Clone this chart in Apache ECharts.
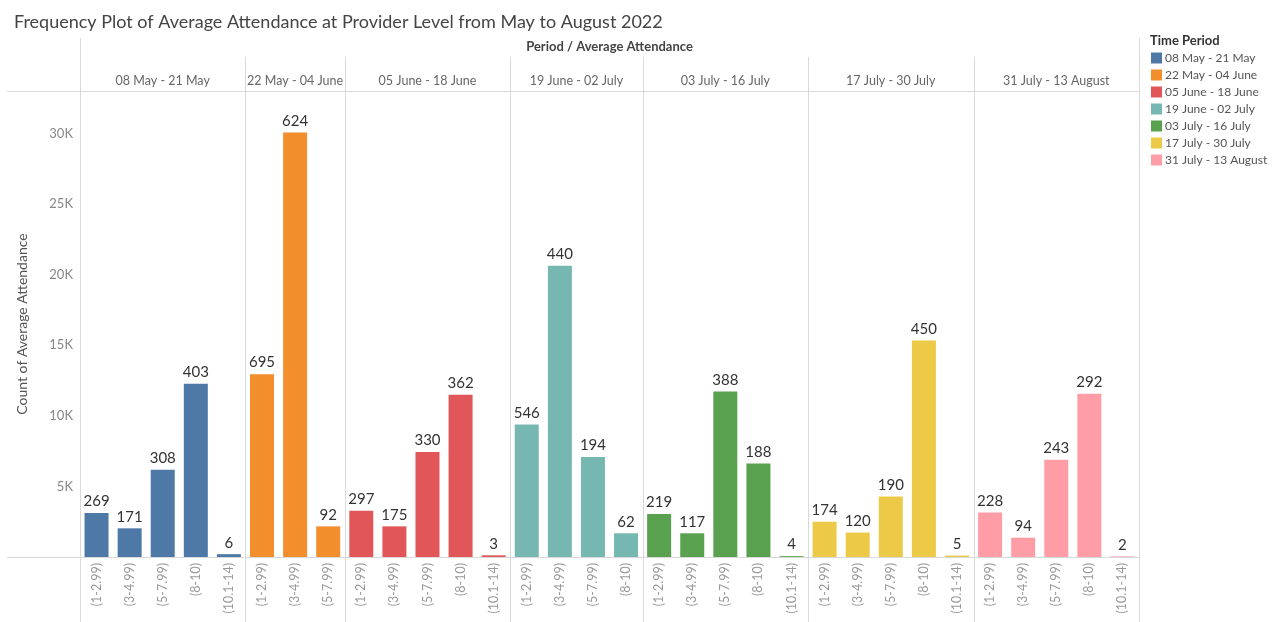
<!DOCTYPE html>
<html>
<head>
<meta charset="utf-8">
<script src="https://cdn.jsdelivr.net/npm/echarts@6/dist/echarts.min.js"></script>
<style>
html,body{margin:0;padding:0;background:#fff;}
#c{width:1273px;height:622px;}
</style>
</head>
<body>
<div id="c"></div>
<script>
// ---- data ----
var periods = ['08 May - 21 May','22 May - 04 June','05 June - 18 June','19 June - 02 July','03 July - 16 July','17 July - 30 July','31 July - 13 August'];
var colors = ['#4e79a7','#f28e2b','#e15759','#76b7b2','#59a14f','#edc948','#ff9da7'];
var bins1 = ['(1-2.99)','(3-4.99)','(5-7.99)','(8-10)','(10.1-14)'];
var bins2 = ['(1-2.99)','(3-4.99)','(5-7.99)'];
var bins3 = ['(1-2.99)','(3-4.99)','(5-7.99)','(8-10)','(10.1-14)'];
var bins4 = ['(1-2.99)','(3-4.99)','(5-7.99)','(8-10)'];
var bins5 = ['(1-2.99)','(3-4.99)','(5-7.99)','(8-10)','(10.1-14)'];
var bins6 = ['(1-2.99)','(3-4.99)','(5-7.99)','(8-10)','(10.1-14)'];
var bins7 = ['(1-2.99)','(3-4.99)','(5-7.99)','(8-10)','(10.1-14)'];
// Count of Average Attendance (bar heights)
var counts1 = [3120, 2030, 6180, 12260, 200];
var counts2 = [12950, 30060, 2170];
var counts3 = [3280, 2170, 7430, 11490, 120];
var counts4 = [9390, 20630, 7080, 1680];
var counts5 = [3050, 1680, 11720, 6630, 60];
var counts6 = [2500, 1730, 4290, 15330, 100];
var counts7 = [3160, 1370, 6890, 11560, 40];
// Labels shown above bars
var labels1 = [269, 171, 308, 403, 6];
var labels2 = [695, 624, 92];
var labels3 = [297, 175, 330, 362, 3];
var labels4 = [546, 440, 194, 62];
var labels5 = [219, 117, 388, 188, 4];
var labels6 = [174, 120, 190, 450, 5];
var labels7 = [228, 94, 243, 292, 2];
var yTicks = [5000, 10000, 15000, 20000, 25000, 30000];

// ---- build ----
var binsAll = [bins1,bins2,bins3,bins4,bins5,bins6,bins7];
var countsAll = [counts1,counts2,counts3,counts4,counts5,counts6,counts7];
var labelsAll = [labels1,labels2,labels3,labels4,labels5,labels6,labels7];
var cats = [], starts = [];
binsAll.forEach(function(b, p){
  starts.push(cats.length);
  b.forEach(function(name){ cats.push(p + '|' + name); });
});
var N = cats.length;
var FONT = 'Lato';
var series = periods.map(function(name, p){
  var d = [], lab = {};
  for (var i = 0; i < N; i++) d.push('-');
  countsAll[p].forEach(function(v, j){ d[starts[p] + j] = v; lab[starts[p] + j] = labelsAll[p][j]; });
  return {
    name: name, type: 'bar', data: d, barWidth: 24, barGap: '-100%',
    itemStyle: {color: colors[p]},
    label: {show: true, position: 'top', distance: 4, color: '#333', fontSize: 15, fontFamily: FONT,
      formatter: function(pr){ return String(lab[pr.dataIndex]); }},
    emphasis: {disabled: true}
  };
});

var chart = echarts.init(document.getElementById('c'), null, {renderer: 'canvas'});
var GL = 80, GR = 134, GT = 91, GB = 65;
chart.setOption({
  animation: false,
  textStyle: {fontFamily: FONT},
  title: {text: 'Frequency Plot of Average Attendance at Provider Level from May to August 2022',
    left: 9, top: 8, textStyle: {fontSize: 18, fontWeight: 'normal', color: '#444', fontFamily: FONT}},
  legend: {orient: 'vertical', left: 1151, top: 51, padding: 0, itemWidth: 11, itemHeight: 11, itemGap: 3,
    icon: 'rect', selectedMode: false, data: periods,
    textStyle: {fontSize: 12, lineHeight: 14, color: '#555', fontFamily: FONT, padding: [0,0,0,-2]}},
  grid: {left: GL, right: GR, top: GT, bottom: GB, containLabel: false},
  xAxis: {type: 'category', data: cats,
    axisLine: {show: false}, axisTick: {show: false}, splitLine: {show: false},
    axisLabel: {interval: 0, rotate: 90, margin: 6, color: '#999', fontSize: 12.5, fontFamily: FONT,
      formatter: function(v){ return v.split('|')[1]; }}},
  yAxis: {type: 'value', min: 0, max: 33000, interval: 5000,
    name: 'Count of Average Attendance', nameLocation: 'middle', nameGap: 51, nameRotate: 90,
    nameTextStyle: {color: '#555', fontSize: 14, fontFamily: FONT},
    axisLine: {show: false}, axisTick: {show: false}, splitLine: {show: false},
    axisLabel: {color: '#888', fontSize: 13, margin: 7, fontFamily: FONT,
      formatter: function(v){ return yTicks.indexOf(v) >= 0 ? (v/1000) + 'K' : ''; }}},
  series: series
});

// ---- separators and headers ----
var c0 = chart.convertToPixel({xAxisIndex: 0}, 0);
var c1 = chart.convertToPixel({xAxisIndex: 0}, 1);
var band = c1 - c0;
var yBase = chart.convertToPixel({yAxisIndex: 0}, 0);
var right = 1273 - GR;
var lineStyle = {stroke: '#d9d9d9', lineWidth: 1};
var g = [];
function hl(y, x1, x2){ g.push({type:'line', silent:true, shape:{x1:x1,y1:y,x2:x2,y2:y}, style:lineStyle}); }
function vl(x, y1, y2){ g.push({type:'line', silent:true, shape:{x1:x,y1:y1,x2:x,y2:y2}, style:lineStyle}); }
hl(Math.round(GT) + 0.5, 7, right);
hl(Math.round(yBase) + 0.5, 7, right);
vl(GL + 0.5, 38, 622);
vl(right + 0.5, 38, 622);
var bounds = starts.concat([N]).map(function(i){ return c0 - band/2 + band * i; });
for (var k = 1; k < starts.length; k++) vl(Math.round(bounds[k]) + 0.5, 57, 622);
for (var k = 0; k < periods.length; k++) {
  g.push({type:'text', silent:true, x:(bounds[k]+bounds[k+1])/2, y:81,
    style:{text: periods[k], fill:'#666', fontSize:12.5, fontFamily:FONT, align:'center', verticalAlign:'middle'}});
}
g.push({type:'text', silent:true, x:(GL+right)/2, y:47,
  style:{text:'Period / Average Attendance', fill:'#444', fontSize:13, fontWeight:'bold', fontFamily:FONT, align:'center', verticalAlign:'middle'}});
g.push({type:'text', silent:true, x:1150, y:41,
  style:{text:'Time Period', fill:'#333', fontSize:13, fontWeight:'bold', fontFamily:FONT, align:'left', verticalAlign:'middle'}});
chart.setOption({graphic: g});
</script>
</body>
</html>
